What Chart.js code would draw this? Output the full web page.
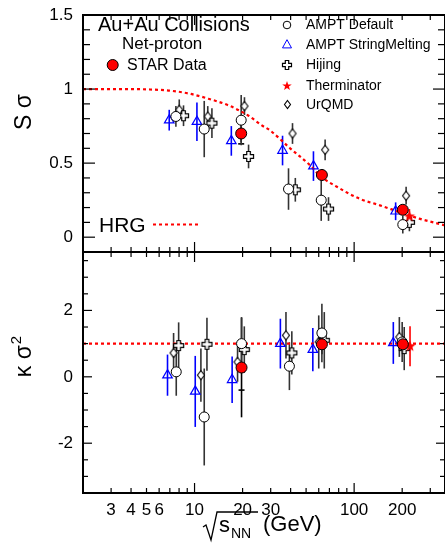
<!DOCTYPE html>
<html><head><meta charset="utf-8">
<script src="https://cdn.jsdelivr.net/npm/chart.js@4"></script>
<style>
html,body{margin:0;padding:0;background:#fff;overflow:hidden;}
#wrap{position:relative;width:445px;height:554px;}
canvas{position:absolute;left:0;}
#c1{top:0;width:445px;height:275px;}
#c2{top:232px;width:445px;height:322px;}
</style></head><body>
<div id="wrap"><canvas id="c1" width="445" height="275"></canvas><canvas id="c2" width="445" height="322"></canvas></div>
<script>
const FONT = "'Liberation Sans', Arial, Helvetica, sans-serif";

// ---------------- DATA ----------------
// STAR Data
const starE_S = [19.6, 62.8, 201.8];
const starS = [0.70, 0.42, 0.185];
const starSerr = [0.06, 0.04, 0.03];
const starSsys = [0.07, 0, 0];
const starE_K = [19.7, 62.8, 202];
const starK = [0.28, 0.98, 0.98];
const starKerr = [1.5, 0.3, 0.25];
const starKsys = [0.68, 0, 0];
// AMPT Default
const amptE_S = [7.64, 11.5, 19.6, 38.8, 62.2, 201.8];
const amptS = [0.815, 0.73, 0.79, 0.325, 0.25, 0.085];
const amptSerr = [0.07, 0.19, 0.17, 0.14, 0.14, 0.06];
const amptE_K = [7.68, 11.5, 19.7, 39.3, 62.8, 200];
const amptK = [0.15, -1.21, 1.0, 0.32, 1.32, 1.05];
const amptKerr = [0.72, 1.46, 0.8, 0.72, 0.88, 0.6];
// AMPT StringMelting
const smE_S = [6.94, 10.35, 17.0, 35.6, 55.6, 182];
const smS = [0.79, 0.78, 0.65, 0.585, 0.48, 0.175];
const smSerr = [0.07, 0.13, 0.1, 0.1, 0.1, 0.06];
const smE_K = [6.77, 10.1, 17.2, 34.5, 55.1, 176];
const smK = [0.05, -0.44, -0.09, 1.0, 0.82, 1.02];
const smKerr = [0.62, 1.07, 0.7, 0.75, 0.65, 0.63];
// Hijing
const hijE_S = [8.53, 12.85, 21.8, 42.8, 69.1, 222];
const hijS = [0.82, 0.77, 0.545, 0.32, 0.19, 0.10];
const hijSerr = [0.07, 0.1, 0.08, 0.08, 0.08, 0.06];
const hijE_K = [7.95, 11.96, 20.5, 40.7, 65, 206];
const hijK = [0.94, 0.98, 0.82, 0.72, 1.1, 0.85];
const hijKerr = [0.7, 0.8, 0.7, 0.65, 0.85, 0.65];
// Therminator
const thE_S = [222];
const thS = [0.14];
const thSerr = [0.05];
const thE_K = [224];
const thK = [0.92];
const thKerr = [0.6];
// UrQMD
const urE_S = [8.02, 12.1, 20.55, 41.1, 65.8, 211.7];
const urS = [0.86, 0.815, 0.885, 0.70, 0.59, 0.28];
const urSerr = [0.07, 0.07, 0.06, 0.07, 0.07, 0.06];
const urE_K = [7.39, 10.96, 18.6, 37.4, 60, 192];
const urK = [0.72, 0.05, 0.45, 1.25, 1.05, 1.2];
const urKerr = [0.6, 0.8, 0.6, 0.7, 0.8, 0.6];
// HRG
const hrgE = [2, 3, 4, 5, 6.9, 9.2, 12.2, 16.3, 21.8, 26.4, 29.8, 39.7, 53, 61, 78, 108, 145, 192, 256, 341, 371];
const hrgS = [1, 1, 1, 0.998, 0.99, 0.97, 0.935, 0.89, 0.82, 0.755, 0.72, 0.60, 0.485, 0.415, 0.34, 0.26, 0.215, 0.17, 0.125, 0.09, 0.08];
const hrgKE = [2, 371];
const hrgK = [1, 1];
// Axis ticks
const xTickVals = [2,3,4,5,6,7,8,9,10,20,30,40,50,60,70,80,90,100,200,300];
const xMajorVals = [10,100];
const xLabelVals = [3,4,5,6,10,20,30,100,200];
const sLabelVals = [0,0.5,1,1.5];
const kLabelVals = [-2,0,2];

// ---------------- MARKERS ----------------
function mk(w,h,fn){const c=document.createElement('canvas');c.width=w;c.height=h;const g=c.getContext('2d');fn(g,w/2,h/2);return c;}
function plusImg(a,b){return mk(2*a+3,2*a+3,(g,cx,cy)=>{g.beginPath();const p=[[-b,-a],[b,-a],[b,-b],[a,-b],[a,b],[b,b],[b,a],[-b,a],[-b,b],[-a,b],[-a,-b],[-b,-b]];p.forEach(([x,y],i)=>i?g.lineTo(cx+x,cy+y):g.moveTo(cx+x,cy+y));g.closePath();g.fillStyle='#fff';g.fill();g.lineWidth=1.2;g.strokeStyle='#000';g.stroke();});}
function diamondImg(hw,hh){return mk(2*hw+3,2*hh+3,(g,cx,cy)=>{g.beginPath();g.moveTo(cx,cy-hh);g.lineTo(cx+hw,cy);g.lineTo(cx,cy+hh);g.lineTo(cx-hw,cy);g.closePath();g.fillStyle='#fff';g.fill();g.lineWidth=1.1;g.strokeStyle='#000';g.stroke();});}
function starImg(ro,ri){return mk(2*ro+2,2*ro+2,(g,cx,cy)=>{g.beginPath();for(let i=0;i<10;i++){const r=i%2?ri:ro;const a=-Math.PI/2+i*Math.PI/5;const x=cx+r*Math.cos(a),y=cy+r*Math.sin(a);i?g.lineTo(x,y):g.moveTo(x,y);}g.closePath();g.fillStyle='#ff0000';g.fill();});}
const PLUS = plusImg(5,1.8), DIAM = diamondImg(3.5,4.5), STAR = starImg(6,2.5);
const PLUS_L = plusImg(4.5,1.7), DIAM_L = diamondImg(3,4), STAR_L = starImg(5,2);

function pts(xs, ys){ return xs.map((x,i)=>({x:x, y:ys[i]})); }

function sets(P){
  return [
    {label:'STAR Data', data: pts(P?starE_S:starE_K, P?starS:starK), errs: P?starSerr:starKerr, sys: P?starSsys:starKsys, errColor:'#000',
      pointStyle:'circle', pointRadius:5.5, backgroundColor:'#ff0000', borderColor:'#000', borderWidth:1},
    {label:'Therminator', data: pts(P?thE_S:thE_K, P?thS:thK), errs: P?thSerr:thKerr, errColor:'#ff0000', pointStyle: STAR},
    {label:'AMPT Default', data: pts(P?amptE_S:amptE_K, P?amptS:amptK), errs: P?amptSerr:amptKerr, errColor:'#333',
      pointStyle:'circle', pointRadius:5, backgroundColor:'#fff', borderColor:'#000', borderWidth:1},
    {label:'Hijing', data: pts(P?hijE_S:hijE_K, P?hijS:hijK), errs: P?hijSerr:hijKerr, errColor:'#333', pointStyle: PLUS},
    {label:'UrQMD', data: pts(P?urE_S:urE_K, P?urS:urK), errs: P?urSerr:urKerr, errColor:'#333', pointStyle: DIAM},
    {label:'AMPT StringMelting', data: pts(P?smE_S:smE_K, P?smS:smK), errs: P?smSerr:smKerr, errColor:'#0000ff',
      pointStyle:'triangle', pointRadius:5.5, backgroundColor:'rgba(255,255,255,0)', borderColor:'#0000ff', borderWidth:1.2},
    {label:'HRG', data: pts(P?hrgE:hrgKE, P?hrgS:hrgK), showLine:true, pointRadius:0, borderColor:'#ff0000', borderWidth:2.2,
      borderDash:[3,3], cubicInterpolationMode:'monotone', fill:false}
  ];
}

const errPlugin = {
  id:'err',
  beforeDatasetsDraw(chart){
    const {ctx, chartArea:a} = chart; const xs=chart.scales.x, ys=chart.scales.y;
    ctx.save(); ctx.beginPath(); ctx.rect(a.left,a.top,a.right-a.left,a.bottom-a.top); ctx.clip();
    chart.data.datasets.forEach(ds=>{
      if(!ds.errs) return;
      ctx.strokeStyle=ds.errColor; ctx.lineWidth=1.6;
      ds.data.forEach((p,i)=>{
        const e=ds.errs[i]; const px=xs.getPixelForValue(p.x);
        ctx.beginPath(); ctx.moveTo(px, ys.getPixelForValue(p.y-e)); ctx.lineTo(px, ys.getPixelForValue(p.y+e)); ctx.stroke();
        if(ds.sys && ds.sys[i]){
          [p.y-ds.sys[i], p.y+ds.sys[i]].forEach(v=>{const py=ys.getPixelForValue(v);ctx.beginPath();ctx.moveTo(px-3,py);ctx.lineTo(px+3,py);ctx.stroke();});
        }
      });
    });
    ctx.restore();
  }
};

function framePlugin(cfg){
  return { id:'frame', afterDraw(chart){
    const {ctx, chartArea:a}=chart; const xs=chart.scales.x, ys=chart.scales.y;
    ctx.save(); ctx.strokeStyle='#000'; ctx.lineWidth=1.2;
    const line=(x1,y1,x2,y2)=>{ctx.beginPath();ctx.moveTo(x1,y1);ctx.lineTo(x2,y2);ctx.stroke();};
    xTickVals.forEach(v=>{const px=xs.getPixelForValue(v);const L=xMajorVals.includes(v)?cfg.xMaj:cfg.xMin;line(px,a.bottom,px,a.bottom-L);line(px,a.top,px,a.top+L);});
    const n=Math.round((cfg.yEnd-cfg.yStart)/cfg.yStep);
    for(let k=0;k<=n;k++){const v=cfg.yStart+k*cfg.yStep;const r=v/cfg.yMajor;const maj=Math.abs(r-Math.round(r))<1e-6;
      const py=ys.getPixelForValue(v);const L=maj?cfg.yMaj:cfg.yMin;line(a.left,py,a.left+L,py);line(a.right,py,a.right-L,py);}
    ctx.lineWidth=2; ctx.strokeRect(a.left,a.top,a.right-a.left,a.bottom-a.top);
    ctx.restore();
    if(cfg.extra) cfg.extra(chart);
  }};
}

function topExtra(chart){
  const ctx=chart.ctx; ctx.save(); ctx.fillStyle='#000'; ctx.textBaseline='middle'; ctx.textAlign='left';
  ctx.font='20px '+FONT; ctx.fillText('Au+Au Collisions', 98, 25);
  ctx.font='17px '+FONT; ctx.fillText('Net-proton', 122, 44.5);
  ctx.font='16px '+FONT; ctx.fillText('STAR Data', 127, 65.5);
  ctx.beginPath(); ctx.arc(112.7,65,5.5,0,Math.PI*2); ctx.fillStyle='#ff0000'; ctx.fill(); ctx.lineWidth=1; ctx.strokeStyle='#000'; ctx.stroke();
  // right legend
  ctx.fillStyle='#000'; ctx.font='14px '+FONT;
  const lx=287, tx=306; const rows=[25,44.5,65,85.5,104.5];
  ['AMPT Default','AMPT StringMelting','Hijing','Therminator','UrQMD'].forEach((t,i)=>ctx.fillText(t,tx,rows[i]+0.5));
  ctx.beginPath(); ctx.arc(lx,rows[0],3.8,0,Math.PI*2); ctx.lineWidth=1; ctx.strokeStyle='#000'; ctx.stroke();
  ctx.beginPath(); ctx.moveTo(lx,rows[1]-4.8); ctx.lineTo(lx+4.5,rows[1]+3.4); ctx.lineTo(lx-4.5,rows[1]+3.4); ctx.closePath(); ctx.strokeStyle='#0000ff'; ctx.stroke();
  ctx.drawImage(PLUS_L, Math.round(lx-PLUS_L.width/2), Math.round(rows[2]-PLUS_L.height/2));
  ctx.drawImage(STAR_L, Math.round(lx-STAR_L.width/2), Math.round(rows[3]-STAR_L.height/2));
  ctx.drawImage(DIAM_L, Math.round(lx-DIAM_L.width/2), Math.round(rows[4]-DIAM_L.height/2));
  // HRG legend
  ctx.fillStyle='#000'; ctx.font='21px '+FONT; ctx.fillText('HRG', 99, 226.5);
  ctx.strokeStyle='#ff0000'; ctx.lineWidth=2; ctx.setLineDash([3,3]); ctx.beginPath(); ctx.moveTo(153,224.5); ctx.lineTo(199,224.5); ctx.stroke(); ctx.setLineDash([]);
  // y title
  ctx.translate(25,112); ctx.rotate(-Math.PI/2); ctx.textAlign='center'; ctx.font='23px '+FONT; ctx.fillStyle='#000'; ctx.fillText('S σ',0,0);
  ctx.restore();
}
function botExtra(chart){
  const ctx=chart.ctx; const off=232; ctx.save(); ctx.fillStyle='#000';
  // y title
  ctx.save(); ctx.translate(25,357-off); ctx.rotate(-Math.PI/2); ctx.textBaseline='middle'; ctx.font='23px '+FONT;
  const w1=ctx.measureText('κ σ').width; ctx.font='15px '+FONT; const w2=ctx.measureText('2').width;
  const x0=-(w1+w2)/2; ctx.textAlign='left'; ctx.font='23px '+FONT; ctx.fillText('κ σ',x0,0); ctx.font='15px '+FONT; ctx.fillText('2',x0+w1+1,-8);
  ctx.restore();
  // x title
  ctx.strokeStyle='#000'; ctx.lineWidth=1.3; ctx.beginPath();
  ctx.moveTo(203,527-off); ctx.lineTo(206,525-off); ctx.lineTo(211,540-off); ctx.lineTo(217,512-off); ctx.lineTo(258,512-off); ctx.stroke();
  ctx.textBaseline='alphabetic'; ctx.textAlign='left';
  ctx.font='22px '+FONT; ctx.fillText('s',219,532-off);
  ctx.font='14px '+FONT; ctx.fillText('NN',231,538-off);
  ctx.font='22px '+FONT; ctx.fillText('(GeV)',263,531-off);
  ctx.restore();
}

Chart.defaults.font.family = FONT;
Chart.defaults.color = '#000';

function noPad(s){ s.paddingTop=0; s.paddingBottom=0; s.paddingLeft=0; s.paddingRight=0; }

function yAxis(min,max,labels){
  return { type:'linear', min:min, max:max, afterFit:s=>{s.width=83; noPad(s);},
    afterBuildTicks:s=>{s.ticks=labels.map(v=>({value:v}));},
    ticks:{ font:{size:17}, color:'#000', padding:10, callback:v=>String(v)},
    grid:{display:false, drawTicks:false}, border:{display:false} };
}

new Chart(document.getElementById('c1'), {
  type:'scatter',
  data:{ datasets: sets(true) },
  options:{ responsive:false, animation:false, events:[],
    layout:{ autoPadding:false, padding:{top:15, bottom:23, left:0, right:0} },
    plugins:{ legend:{display:false}, tooltip:{enabled:false} },
    scales:{
      x:{ type:'logarithmic', min:2, max:371, display:false, afterFit:s=>{noPad(s);} },
      y: yAxis(-0.1, 1.5, sLabelVals)
    }
  },
  plugins:[errPlugin, framePlugin({xMaj:10,xMin:5,yStart:-0.1,yEnd:1.5,yStep:0.1,yMajor:0.5,yMaj:12,yMin:7,extra:topExtra})]
});

new Chart(document.getElementById('c2'), {
  type:'scatter',
  data:{ datasets: sets(false) },
  options:{ responsive:false, animation:false, events:[],
    layout:{ autoPadding:false, padding:{top:20, bottom:0, left:0, right:0} },
    plugins:{ legend:{display:false}, tooltip:{enabled:false} },
    scales:{
      x:{ type:'logarithmic', min:2, max:371, afterFit:s=>{s.height=61; noPad(s);},
        afterBuildTicks:s=>{s.ticks=xLabelVals.map(v=>({value:v}));},
        ticks:{ autoSkip:false, maxRotation:0, minRotation:0, font:{size:17}, color:'#000', padding:7, callback:v=>String(v)},
        grid:{display:false, drawTicks:false}, border:{display:false} },
      y: yAxis(-3.5, 3.76, kLabelVals)
    }
  },
  plugins:[errPlugin, framePlugin({xMaj:10,xMin:5,yStart:-3.5,yEnd:3.5,yStep:0.5,yMajor:2,yMaj:9,yMin:5,extra:botExtra})]
});
</script>
</body></html>
